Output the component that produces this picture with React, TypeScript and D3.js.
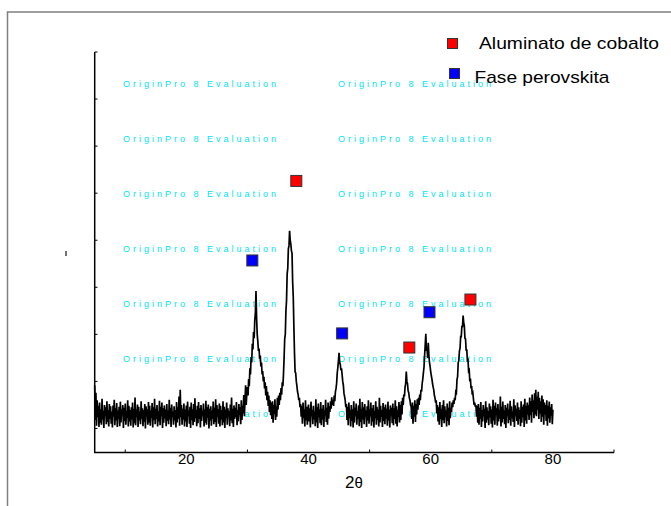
import React from "react";
import * as d3 from "d3";

const W = 671;
const H = 506;

// XRD scan, 2θ from 5° to 80° in 0.1° steps (intensity in arbitrary units)
const scanStart = 5;
const scanStep = 0.1;
const intensity = [
  /* 5 */ 192, 118, 176, 106, 160, 124, 148, 103, 155, 112,
  /* 6 */ 141, 108, 163, 119, 137, 101, 150, 127, 145, 109,
  /* 7 */ 158, 114, 139, 104, 152, 121, 147, 110, 136, 102,
  /* 8 */ 149, 125, 161, 107, 143, 117, 154, 103, 138, 120,
  /* 9 */ 146, 105, 157, 113, 141, 128, 150, 101, 144, 116,
  /* 10 */ 153, 108, 137, 122, 160, 104, 148, 115, 139, 106,
  /* 11 */ 145, 119, 155, 102, 142, 111, 166, 107, 140, 124,
  /* 12 */ 151, 103, 146, 117, 136, 109, 158, 121, 143, 105,
  /* 13 */ 139, 114, 152, 100, 147, 126, 141, 108, 156, 112,
  /* 14 */ 148, 106, 138, 123, 154, 102, 145, 118, 163, 109,
  /* 15 */ 142, 120, 150, 104, 137, 115, 159, 107, 146, 127,
  /* 16 */ 155, 101, 143, 112, 149, 122, 140, 105, 152, 116,
  /* 17 */ 138, 109, 161, 119, 144, 103, 151, 125, 136, 108,
  /* 18 */ 147, 117, 139, 102, 156, 113, 145, 121, 168, 106,
  /* 19 */ 182, 124, 150, 108, 142, 119, 153, 104, 140, 115,
  /* 20 */ 149, 103, 157, 126, 138, 110, 146, 101, 155, 118,
  /* 21 */ 141, 107, 152, 114, 164, 122, 139, 105, 148, 111,
  /* 22 */ 156, 120, 143, 102, 150, 116, 137, 127, 153, 104,
  /* 23 */ 140, 112, 159, 108, 145, 123, 151, 100, 142, 117,
  /* 24 */ 147, 106, 138, 121, 157, 109, 144, 114, 162, 103,
  /* 25 */ 150, 125, 141, 110, 153, 104, 148, 119, 139, 107,
  /* 26 */ 158, 113, 146, 101, 140, 122, 155, 108, 143, 126,
  /* 27 */ 137, 105, 151, 117, 166, 111, 142, 103, 149, 120,
  /* 28 */ 144, 124, 156, 107, 139, 115, 152, 128, 145, 109,
  /* 29 */ 160, 118, 148, 132, 171, 126, 158, 192, 150, 174,
  /* 30 */ 188, 170, 205, 190, 228, 215, 252, 240, 280, 268,
  /* 31 */ 305, 292, 330, 345, 392, 335, 300, 285, 265, 270,
  /* 32 */ 248, 255, 232, 240, 215, 222, 200, 210, 185, 198,
  /* 33 */ 170, 190, 160, 178, 148, 170, 135, 160, 128, 155,
  /* 34 */ 120, 158, 112, 150, 131, 162, 118, 147, 125, 165,
  /* 35 */ 140, 170, 150, 176, 160, 186, 172, 198, 190, 215,
  /* 36 */ 250, 290, 300, 350, 372, 428, 440, 482, 488, 520,
  /* 37 */ 500, 492, 478, 472, 412, 380, 318, 262, 220, 218,
  /* 38 */ 200, 190, 178, 172, 160, 165, 145, 152, 125, 148,
  /* 39 */ 110, 155, 122, 141, 104, 160, 117, 146, 108, 138,
  /* 40 */ 151, 115, 143, 102, 157, 126, 139, 109, 148, 120,
  /* 41 */ 136, 105, 162, 113, 145, 101, 153, 124, 140, 111,
  /* 42 */ 156, 107, 142, 119, 150, 103, 138, 127, 161, 114,
  /* 43 */ 144, 108, 155, 121, 147, 135, 158, 142, 166, 150,
  /* 44 */ 160, 148, 170, 158, 178, 185, 196, 218, 230, 245,
  /* 45 */ 261, 240, 236, 224, 228, 214, 200, 192, 175, 168,
  /* 46 */ 160, 145, 152, 118, 146, 107, 155, 123, 139, 104,
  /* 47 */ 150, 116, 141, 102, 158, 112, 144, 127, 153, 108,
  /* 48 */ 137, 121, 149, 105, 163, 114, 142, 101, 156, 119,
  /* 49 */ 145, 109, 152, 124, 138, 103, 147, 117, 160, 110,
  /* 50 */ 141, 126, 155, 106, 143, 115, 150, 102, 137, 122,
  /* 51 */ 158, 108, 146, 118, 140, 104, 165, 113, 148, 125,
  /* 52 */ 139, 103, 154, 116, 145, 109, 151, 121, 142, 106,
  /* 53 */ 157, 117, 140, 102, 149, 128, 144, 111, 153, 107,
  /* 54 */ 143, 120, 160, 110, 147, 104, 139, 124, 156, 113,
  /* 55 */ 150, 118, 158, 130, 165, 150, 172, 168, 188, 195,
  /* 56 */ 221, 200, 195, 180, 176, 165, 160, 150, 146, 120,
  /* 57 */ 155, 110, 148, 125, 160, 114, 152, 130, 162, 140,
  /* 58 */ 165, 150, 172, 160, 182, 178, 195, 205, 218, 230,
  /* 59 */ 255, 278, 301, 265, 270, 250, 282, 255, 240, 232,
  /* 60 */ 220, 212, 205, 195, 188, 182, 170, 165, 155, 160,
  /* 61 */ 132, 150, 115, 145, 108, 156, 120, 142, 103, 150,
  /* 62 */ 118, 160, 111, 147, 125, 138, 104, 153, 116, 144,
  /* 63 */ 107, 158, 122, 141, 135, 155, 145, 160, 152, 165,
  /* 64 */ 160, 178, 176, 204, 210, 240, 244, 265, 270, 295,
  /* 65 */ 295, 318, 315, 340, 325, 318, 292, 290, 265, 268,
  /* 66 */ 245, 246, 222, 224, 200, 206, 185, 190, 172, 175,
  /* 67 */ 162, 150, 155, 146, 150, 125, 148, 112, 152, 108,
  /* 68 */ 144, 121, 156, 103, 139, 115, 150, 126, 142, 101,
  /* 69 */ 158, 112, 145, 119, 137, 107, 153, 124, 147, 110,
  /* 70 */ 140, 102, 161, 117, 148, 108, 155, 129, 143, 106,
  /* 71 */ 152, 115, 139, 121, 168, 104, 146, 113, 157, 120,
  /* 72 */ 138, 109, 150, 101, 144, 126, 153, 111, 140, 118,
  /* 73 */ 159, 106, 147, 122, 136, 114, 162, 103, 149, 127,
  /* 74 */ 142, 116, 155, 108, 145, 120, 139, 105, 158, 112,
  /* 75 */ 146, 124, 151, 103, 163, 117, 148, 110, 155, 130,
  /* 76 */ 150, 118, 166, 128, 158, 112, 172, 135, 160, 122,
  /* 77 */ 175, 130, 182, 126, 168, 140, 178, 120, 165, 132,
  /* 78 */ 158, 114, 170, 125, 162, 108, 155, 130, 150, 116,
  /* 79 */ 160, 106, 148, 122, 157, 112, 145, 127, 152, 109,
  /* 80 */ 140,
];

// phase markers [2θ, height]
const aluminatoMarks = [
  [38.0, 626],
  [56.5, 272],
  [66.5, 374],
];
const perovskitaMarks = [
  [30.8, 457],
  [45.5, 302],
  [59.8, 347],
];

const xLabelTicks = [20, 40, 60, 80];
const xMinorTicks = [10, 30, 50, 70, 90];
const yTicks = [100, 200, 300, 400, 500, 600, 700, 800, 900];

const legendLabels = ["Aluminato de cobalto", "Fase perovskita"];
const watermark = "OriginPro 8 Evaluation";

const font = "'Liberation Sans', Arial, sans-serif";

export default function App() {
  const x = d3.scaleLinear().domain([5, 90]).range([94.7, 614]);
  const y = d3.scaleLinear().domain([50, 900]).range([452, 52]);

  const pts = intensity.map((v, i) => [scanStart + i * scanStep, v] as [number, number]);
  const path = d3
    .line<[number, number]>()
    .x((d) => x(d[0]))
    .y((d) => y(d[1]))(pts);

  const wmRows = d3.range(7).map((i) => 87 + i * 55);
  const wmCols = [123, 338];

  const marker = (d: number[], fill: string, k: string) => (
    <rect
      key={k}
      x={x(d[0]) - 5.5}
      y={y(d[1]) - 5.5}
      width={11}
      height={11}
      fill={fill}
      stroke="#333"
      strokeWidth={1}
    />
  );

  return (
    <svg
      width={W}
      height={H}
      style={{ position: "absolute", left: 0, top: 0, background: "#fff" }}
    >
      <rect x={7.5} y={12} width={700} height={520} fill="none" stroke="#7f7f7f" strokeWidth={1.5} />

      {/* watermark */}
      {wmRows.map((r) =>
        wmCols.map((c) => (
          <text
            key={`${r}-${c}`}
            x={c}
            y={r}
            fontFamily={font}
            fontSize={9}
            fill="#00e4f2"
            textLength={153}
            lengthAdjust="spacing"
          >
            {watermark}
          </text>
        ))
      )}

      {/* scan */}
      <path d={path ?? ""} fill="none" stroke="#000" strokeWidth={1.7} strokeLinejoin="miter" />

      {/* axes */}
      <line x1={94.7} x2={94.7} y1={52} y2={452.5} stroke="#000" strokeWidth={1.5} />
      <line x1={94} x2={614} y1={452.5} y2={452.5} stroke="#000" strokeWidth={1.5} />
      {yTicks.map((t) => (
        <line key={t} x1={94.7} x2={97.5} y1={y(t)} y2={y(t)} stroke="#000" strokeWidth={1} />
      ))}
      {xMinorTicks.map((t) => (
        <line key={t} x1={x(t)} x2={x(t)} y1={452.5} y2={449.5} stroke="#000" strokeWidth={1} />
      ))}
      {xLabelTicks.map((t) => (
        <text key={t} x={x(t)} y={464} textAnchor="middle" fontFamily={font} fontSize={15} fill="#000">
          {t}
        </text>
      ))}
      <text x={345} y={488} fontFamily={font} fontSize={17} fill="#000">
        2<tspan fontSize={15}>θ</tspan>
      </text>
      <line x1={66} x2={66} y1={251} y2={256} stroke="#444" strokeWidth={1.5} />

      {/* markers */}
      {aluminatoMarks.map((d, i) => marker(d, "#ff0000", `a${i}`))}
      {perovskitaMarks.map((d, i) => marker(d, "#0000ff", `p${i}`))}

      {/* legend */}
      <rect x={447.5} y={38.5} width={10} height={10} fill="#ff0000" stroke="#333" strokeWidth={1} />
      <text x={479} y={48.5} fontFamily={font} fontSize={17} fill="#000" textLength={180} lengthAdjust="spacingAndGlyphs">
        {legendLabels[0]}
      </text>
      <rect x={449.5} y={68.5} width={10} height={10} fill="#0000ff" stroke="#333" strokeWidth={1} />
      <text x={474.5} y={83} fontFamily={font} fontSize={17} fill="#000" textLength={135} lengthAdjust="spacingAndGlyphs">
        {legendLabels[1]}
      </text>
    </svg>
  );
}
